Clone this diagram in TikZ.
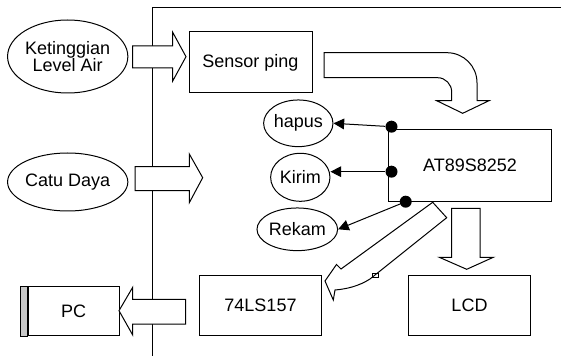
\documentclass[tikz,border=0pt]{standalone}
\usepackage{fontspec}
\setmainfont{Liberation Sans}
\usetikzlibrary{shapes.geometric,arrows.meta}

\tikzset{
  blok/.style={draw,line width=0.75,rectangle,inner sep=0pt},
  oval/.style={draw,line width=0.75,ellipse,inner sep=0pt},
  titik/.style={circle,fill=black,inner sep=0pt,minimum size=9pt},
  panah/.style={line width=0.75,-{Triangle[length=8pt,width=8pt]}},
  panahblok/.style={draw,line width=0.75,fill=white,line join=miter},
}

\begin{document}
\begin{tikzpicture}[x=0.75pt,y=0.75pt,yscale=-1,xscale=1,font=\fontsize{13.5}{13}\selectfont]
\useasboundingbox (0,0) rectangle (561,356);

%Straight Lines [id:batas]
\draw [line width=0.75] (152.7,356) -- (152.7,7.3) -- (561,7.3) ;

%Shape: Ellipse [id:ketinggian]
\node [oval,minimum width=82.5pt,minimum height=54.75pt,align=center] (ketinggian) at (67.7,56.5) {Ketinggian\\Level Air};
%Shape: Ellipse [id:catu]
\node [oval,minimum width=82.5pt,minimum height=43.5pt] (catu) at (67.7,182) {Catu Daya};
%Shape: Ellipse [id:hapus]
\node [oval,minimum width=50pt,minimum height=35pt] (hapus) at (298.3,123.3) {hapus};
%Shape: Ellipse [id:kirim]
\node [oval,minimum width=44.5pt,minimum height=36pt] (kirim) at (300.3,177.3) {Kirim};
%Shape: Ellipse [id:rekam]
\node [oval,minimum width=55pt,minimum height=32pt] (rekam) at (297.3,229.3) {Rekam};

%Shape: Rectangle [id:sensor]
\node [blok,minimum width=92.25pt,minimum height=45.75pt] (sensor) at (250.5,62.5) {Sensor ping};
%Shape: Rectangle [id:mikro]
\node [blok,minimum width=122.5pt,minimum height=54.3pt] (mikro) at (470,165.5) {AT89S8252};
%Shape: Rectangle [id:mux]
\node [blok,minimum width=91.8pt,minimum height=45.2pt] (mux) at (260.5,305.8) {74LS157};
%Shape: Rectangle [id:lcd]
\node [blok,minimum width=91.8pt,minimum height=45.2pt] (lcd) at (469.5,305.8) {LCD};
%Shape: Rectangle [id:pc]
\node [blok,minimum width=68.2pt,minimum height=37pt] (pc) at (73.7,311.3) {PC};
\draw [line width=0.75,fill={rgb, 255:red, 200; green, 200; blue, 200 }] (20.7,286.7) rectangle (pc.south west) ;

%Shape: Right Arrow [id:masuk1]
\draw [panahblok] (132.7,46) -- (172.7,46) -- (172.7,32.3) -- (186,56.7) -- (172.7,81) -- (172.7,68) -- (132.7,68) -- cycle ;
%Shape: Right Arrow [id:masuk2]
\draw [panahblok] (135,166.7) -- (189.3,166.7) -- (189.3,154) -- (202.7,177.7) -- (189.3,202.7) -- (189.3,190.7) -- (135,190.7) -- cycle ;
%Shape: Left Arrow [id:keluar]
\draw [panahblok] (185.7,299.3) -- (132.7,299.3) -- (132.7,287.3) -- (119,310.7) -- (132.7,335) -- (132.7,324) -- (185.7,324) -- cycle ;
%Shape: Bent Arrow [id:belok]
\draw [panahblok] (324,52.7) -- (447,52.7) .. controls (463.6,52.7) and (477,66.1) .. (477,82.7) -- (477,100.7) -- (489,100.7) -- (462.7,113.3) -- (436.7,100.7) -- (451.7,100.7) -- (451.7,92) .. controls (451.7,84.3) and (445.4,77.7) .. (437.7,77.7) -- (324,77.7) -- cycle ;
%Shape: Down Arrow [id:turun]
\draw [panahblok] (451.7,208.3) -- (480,208.3) -- (480,257.3) -- (493.3,257.3) -- (466.7,269.3) -- (439.3,257.3) -- (451.7,257.3) -- cycle ;
%Shape: Curved Arrow [id:miring]
\draw [panahblok] (432.7,202.3) -- (341,269) -- (336.5,264.5) -- (325,281) -- (333.3,300) -- (335,290) .. controls (347,289) and (359,286) .. (370,279) -- (446.7,217.7) -- cycle ;
%Shape: Rectangle [id:kotak]
\draw [line width=0.75] (372,273.5) rectangle (378,277.7) ;

%Straight Lines [id:pin]
\node [titik] (d1) at (391.5,126.7) {};
\node [titik] (d2) at (391.5,171.7) {};
\node [titik] (d3) at (405.7,201.7) {};
\draw [line width=0.75] (d1.center) -- (388.3,126.7) -- (mikro.north west) ;
\draw [panah] (d1) -- (hapus.east) ;
\draw [panah] (d2) -- (d2 -| kirim.east) ;
\draw [panah] (d3) -- (rekam.east) ;

\end{tikzpicture}
\end{document}
